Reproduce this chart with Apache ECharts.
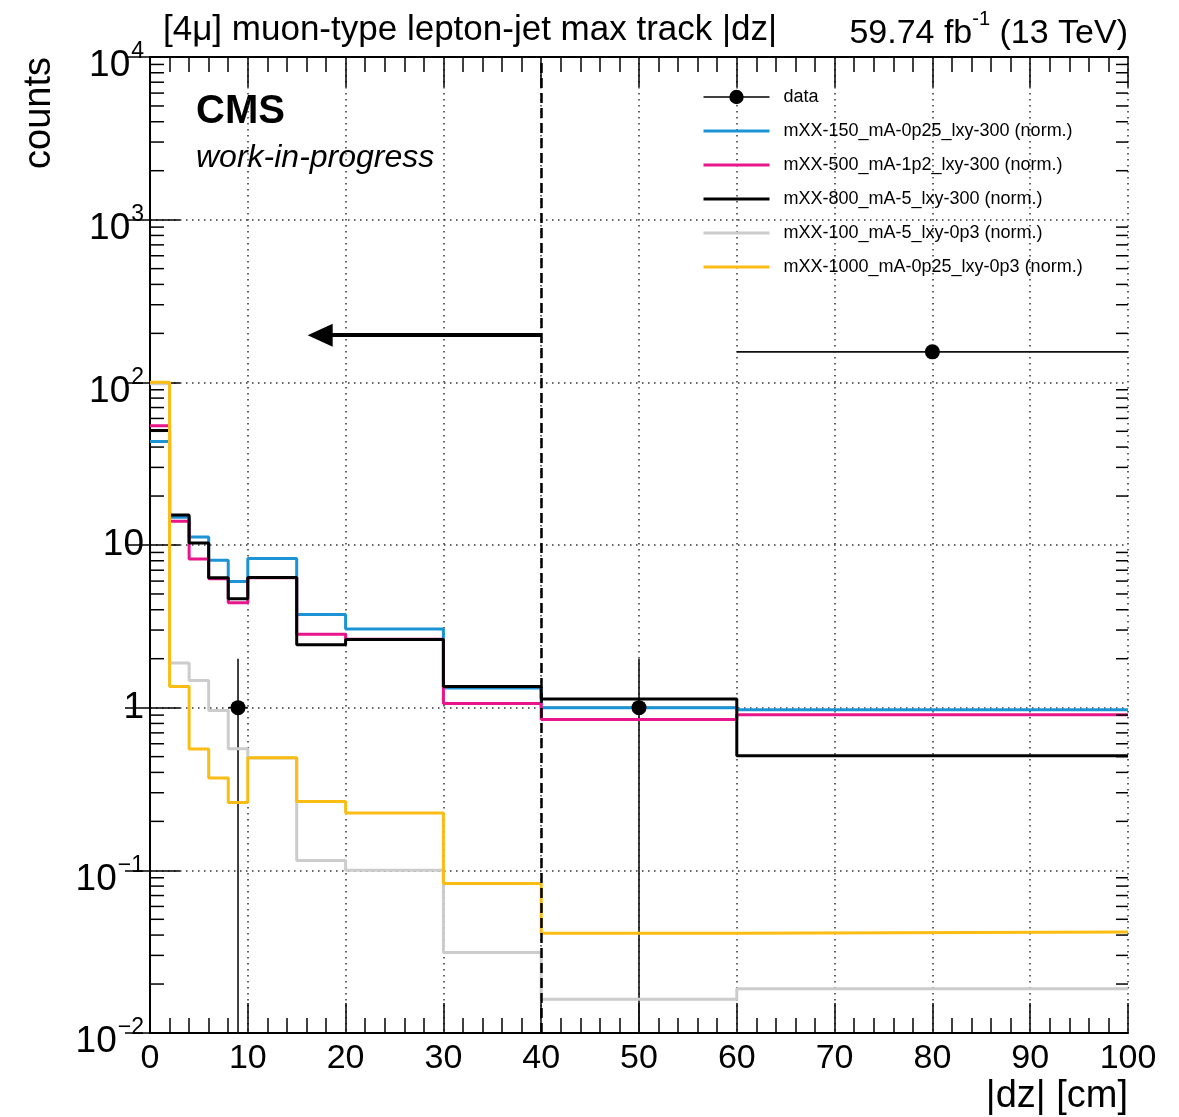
<!DOCTYPE html>
<html>
<head>
<meta charset="utf-8">
<script src="https://cdn.jsdelivr.net/npm/echarts@6/dist/echarts.min.js"></script>
<style>
html, body { margin: 0; padding: 0; background: #fff; }
#chart { width: 1179px; height: 1117px; }
</style>
</head>
<body>
<div id="chart"></div>
<script>
// bin edges of |dz| [cm]
var binEdges = [0, 2, 4, 6, 8, 10, 15, 20, 30, 40, 60, 100];

// normalised signal histograms, one value per bin
var mxx150 = [43.3, 14.8, 11.2, 8.06, 5.96, 8.26, 3.74, 3.05, 1.32, 1.0, 0.97];
var mxx500 = [54.0, 14.0, 8.2, 6.2, 4.41, 6.3, 2.83, 2.63, 1.06, 0.845, 0.905];
var mxx800 = [50.6, 15.3, 10.3, 6.28, 4.67, 6.31, 2.44, 2.62, 1.35, 1.13, 0.507];
var mxx100 = [98, 1.88, 1.47, 0.96, 0.56, 0.49, 0.115, 0.1, 0.0313, 0.0161, 0.0187];
var mxx1000 = [100, 1.35, 0.557, 0.369, 0.261, 0.492, 0.265, 0.225, 0.083, 0.041, 0.0418];

// data points
var dataX = [9, 50, 80];
var dataY = [1, 1, 154];
var dataXLow = [8, 40, 60];
var dataXHigh = [10, 60, 100];
var dataYErr = [1, 1, 12.4];

// cut line + arrow
var cutValue = 40;
var arrowY = 195;
var arrowHeadX = 17.4;

var yMin = 0.01, yMax = 10000;
var yMinorTicks = [];
for (var e = -2; e < 4; e++) {
    for (var m = 2; m < 10; m++) {
        yMinorTicks.push(+(m * Math.pow(10, e)).toPrecision(3));
    }
}

var FONT = 'Liberation Sans';

function steps(vals) {
    var pts = [];
    for (var i = 0; i < binEdges.length; i++) {
        pts.push([binEdges[i], vals[Math.min(i, vals.length - 1)]]);
    }
    return pts;
}

function histSeries(name, vals, color) {
    return {
        name: name,
        type: 'line',
        step: 'end',
        data: steps(vals),
        symbol: 'none',
        showSymbol: false,
        lineStyle: { color: color, width: 3 },
        itemStyle: { color: color },
        emphasis: { disabled: true },
        silent: true
    };
}

function yLabel(v) {
    var ex = Math.round(Math.log10(v));
    if (ex === 0) return '{p|1}';
    if (ex === 1) return '{p|10}';
    return '{b|10}{s|' + (ex < 0 ? '\u2212' + (-ex) : ex) + '}';
}

var names = [
    'mXX-150_mA-0p25_lxy-300 (norm.)',
    'mXX-500_mA-1p2_lxy-300 (norm.)',
    'mXX-800_mA-5_lxy-300 (norm.)',
    'mXX-100_mA-5_lxy-0p3 (norm.)',
    'mXX-1000_mA-0p25_lxy-0p3 (norm.)'
];
var colors = ['#1b93d5', '#e8158b', '#000000', '#cccccc', '#fbbc14'];

var dom = document.getElementById('chart');
var myChart = echarts.init(dom);

var xAxisBase = {
    type: 'value',
    min: 0,
    max: 100,
    interval: 10,
    axisLine: { lineStyle: { color: '#000', width: 2 } },
    axisTick: { inside: true, length: 30, lineStyle: { color: '#000', width: 1.5 } },
    minorTick: { show: true, splitNumber: 5, length: 15, lineStyle: { color: '#000', width: 1.5 } }
};

var option = {
    animation: false,
    backgroundColor: '#fff',
    grid: { left: 150, top: 57, right: 51, bottom: 84, containLabel: false },
    xAxis: [
        Object.assign({}, xAxisBase, {
            position: 'bottom',
            axisLabel: { fontFamily: FONT, fontSize: 34, color: '#000', margin: 9 },
            splitLine: { show: true, lineStyle: { color: '#333', width: 1.5, type: [1.5, 4.5] } }
        }),
        Object.assign({}, xAxisBase, {
            position: 'top',
            axisLabel: { show: false },
            splitLine: { show: false }
        })
    ],
    yAxis: [
        {
            type: 'log',
            logBase: 10,
            min: yMin,
            max: yMax,
            position: 'left',
            axisLine: { lineStyle: { color: '#000', width: 2 } },
            axisTick: { inside: true, length: 30, lineStyle: { color: '#000', width: 1.5 } },
            axisLabel: {
                margin: 6,
                color: '#000',
                formatter: yLabel,
                rich: {
                    p: { fontFamily: FONT, fontSize: 37, color: '#000' },
                    b: { fontFamily: FONT, fontSize: 37, lineHeight: 55, color: '#000',
                         padding: [18, 0, 0, 0], verticalAlign: 'bottom' },
                    s: { fontFamily: FONT, fontSize: 23, lineHeight: 34, color: '#000',
                         padding: [11, 0, 0, 1], verticalAlign: 'top' }
                }
            },
            splitLine: { show: true, lineStyle: { color: '#333', width: 1.5, type: [1.5, 4.5] } }
        },
        {
            type: 'log',
            logBase: 10,
            min: yMin,
            max: yMax,
            position: 'right',
            axisLine: { lineStyle: { color: '#000', width: 2 } },
            axisTick: { inside: true, length: 25, lineStyle: { color: '#000', width: 1.5 } },
            axisLabel: { show: false },
            splitLine: { show: false }
        }
    ],
    legend: {
        left: 702,
        top: 88,
        padding: 0,
        orient: 'vertical',
        itemWidth: 66,
        itemHeight: 18,
        itemGap: 16,
        selectedMode: false,
        lineStyle: { width: 3 },
        textStyle: { fontFamily: FONT, fontSize: 18, color: '#000', padding: [0, 0, 0, 9] },
        data: [{ name: 'data', itemStyle: { opacity: 1 }, lineStyle: { width: 1.5, opacity: 1, color: '#000' } }]
            .concat(names.map(function (n) {
                return { name: n, itemStyle: { opacity: 0 } };
            }))
    },
    graphic: [
        { type: 'text', x: 163, y: 30, silent: true,
          style: { text: '[4\u03bc] muon-type lepton-jet max track |dz|', fill: '#000',
                   font: '35px "' + FONT + '"', align: 'left', verticalAlign: 'middle',
                   textAlign: 'left', textVerticalAlign: 'middle' } },
        { type: 'text', x: 1128, y: 30, silent: true,
          style: { text: '{a|59.74 fb}{s|-1}{a| (13 TeV)}', align: 'right', verticalAlign: 'middle',
                   textAlign: 'right', textVerticalAlign: 'middle',
                   rich: {
                       a: { fontFamily: FONT, fontSize: 34, lineHeight: 42, padding: [8, 0, 0, 0],
                            color: '#000', verticalAlign: 'bottom' },
                       s: { fontFamily: FONT, fontSize: 20, lineHeight: 20, color: '#000', verticalAlign: 'top' }
                   } } },
        { type: 'text', x: 196, y: 112, silent: true,
          style: { text: 'CMS', fill: '#000', font: 'bold 40px "' + FONT + '"',
                   align: 'left', verticalAlign: 'middle', textAlign: 'left', textVerticalAlign: 'middle' } },
        { type: 'text', x: 196, y: 158, silent: true,
          style: { text: 'work-in-progress', fill: '#000', font: 'italic 32px "' + FONT + '"',
                   align: 'left', verticalAlign: 'middle', textAlign: 'left', textVerticalAlign: 'middle' } },
        { type: 'text', x: 40, y: 57, rotation: Math.PI / 2, silent: true,
          style: { text: 'counts', fill: '#000', font: '38px "' + FONT + '"',
                   align: 'right', verticalAlign: 'middle', textAlign: 'right', textVerticalAlign: 'middle' } },
        { type: 'text', x: 1128, y: 1097, silent: true,
          style: { text: '|dz| [cm]', fill: '#000', font: '38px "' + FONT + '"',
                   align: 'right', verticalAlign: 'middle', textAlign: 'right', textVerticalAlign: 'middle' } }
    ],
    series: []
};

for (var i = 0; i < names.length; i++) {
    option.series.push(histSeries(names[i], [mxx150, mxx500, mxx800, mxx100, mxx1000][i], colors[i]));
}

// error bars of the data points
option.series.push({
    name: 'data-err',
    type: 'custom',
    silent: true,
    z: 3,
    data: dataX.map(function (x, k) {
        return [x, dataY[k], dataXLow[k], dataXHigh[k], dataYErr[k]];
    }),
    encode: { x: 0, y: 1 },
    renderItem: function (params, api) {
        var x = api.value(0), y = api.value(1), err = api.value(4);
        var pL = api.coord([api.value(2), y]);
        var pR = api.coord([api.value(3), y]);
        var pT = api.coord([x, y + err]);
        var pB = api.coord([x, Math.max(y - err, yMin)]);
        var st = { stroke: '#111', lineWidth: 1.6 };
        return {
            type: 'group',
            children: [
                { type: 'line', shape: { x1: pL[0], y1: pL[1], x2: pR[0], y2: pR[1] }, style: st },
                { type: 'line', shape: { x1: pT[0], y1: pT[1], x2: pB[0], y2: pB[1] }, style: st }
            ]
        };
    }
});

// data markers (+ cut line and arrow)
option.series.push({
    name: 'data',
    type: 'line',
    data: dataX.map(function (x, k) { return [x, dataY[k]]; }),
    symbol: 'circle',
    symbolSize: 15,
    itemStyle: { color: '#000' },
    lineStyle: { opacity: 0 },
    emphasis: { disabled: true },
    silent: true,
    z: 4,
    markLine: {
        silent: true,
        animation: false,
        symbol: ['none', 'none'],
        label: { show: false },
        emphasis: { disabled: true },
        data: [
            { xAxis: cutValue, lineStyle: { color: '#000', width: 2.5, type: [10, 5] } },
            [
                { coord: [cutValue, arrowY], symbol: 'none', lineStyle: { color: '#000', width: 4, type: 'solid' } },
                { coord: [arrowHeadX, arrowY], symbol: 'triangle', symbolSize: [23, 25] }
            ]
        ]
    }
});

// minor ticks of the log axis, left and right
option.series.push({
    name: 'y-minor-ticks',
    type: 'custom',
    silent: true,
    z: 5,
    clip: false,
    data: yMinorTicks.map(function (v) { return [0, v]; }),
    encode: { x: 0, y: 1 },
    renderItem: function (params, api) {
        var v = api.value(1);
        var pl = api.coord([0, v]);
        var pr = api.coord([100, v]);
        var st = { stroke: '#000', lineWidth: 1.5 };
        return {
            type: 'group',
            children: [
                { type: 'line', shape: { x1: pl[0], y1: pl[1], x2: pl[0] + 14, y2: pl[1] }, style: st },
                { type: 'line', shape: { x1: pr[0], y1: pr[1], x2: pr[0] - 12, y2: pr[1] }, style: st }
            ]
        };
    }
});

if (option && typeof option === 'object') {
    myChart.setOption(option, true);
}
</script>
</body>
</html>
